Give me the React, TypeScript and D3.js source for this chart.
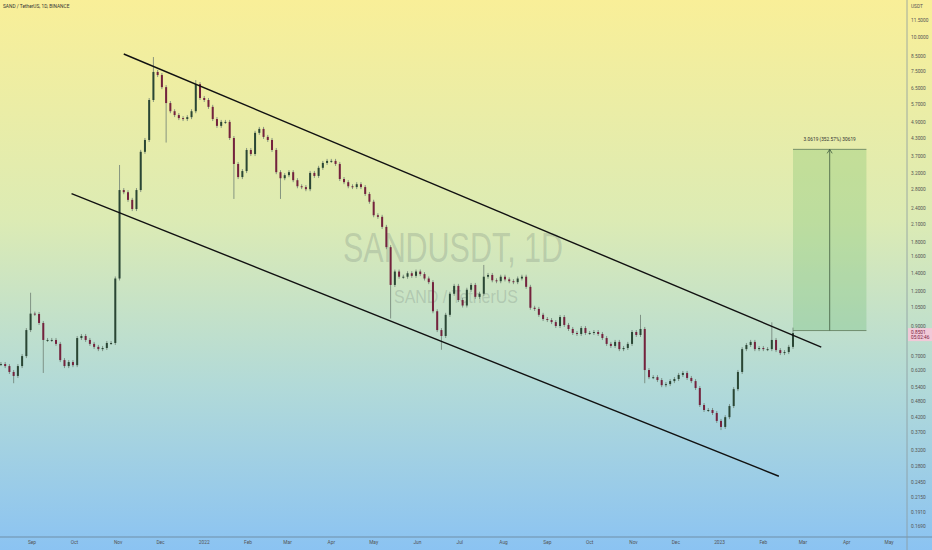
import React, { useEffect } from 'react';
import * as d3 from 'd3';

const W = 932;
const H = 550;
const PLOT_RIGHT = 907;
const PLOT_BOTTOM = 537;

// daily chart resampled to one candle every 3 days, closes
const candleStart = '2021-08-10';
const candleStepDays = 3;
const closes = [
  0.657, 0.646, 0.615, 0.595, 0.646, 0.702, 0.872, 1.0, 0.997, 0.925,
  0.803, 0.803, 0.803, 0.777, 0.679, 0.646, 0.668, 0.651, 0.816, 0.83,
  0.803, 0.777, 0.758, 0.744, 0.751, 0.783, 0.783, 1.34, 2.8, 2.75,
  2.58, 2.39, 2.8, 3.85, 4.25, 5.93, 7.49, 7.3, 6.6, 5.78,
  5.4, 5.23, 5.1, 5.06, 5.14, 5.4, 6.77, 6.03, 5.93, 5.6,
  5.06, 4.78, 4.94, 4.94, 4.32, 3.48, 3.12, 3.28, 3.91, 3.78,
  4.51, 4.66, 4.36, 4.25, 3.91, 3.25, 3.09, 3.17, 3.25, 3.04,
  2.89, 2.87, 2.82, 3.23, 3.15, 3.37, 3.51, 3.57, 3.57, 3.48,
  3.07, 2.99, 2.89, 2.87, 2.94, 2.87, 2.71, 2.54, 2.27, 2.24,
  2.06, 1.74, 1.27, 1.42, 1.36, 1.36, 1.4, 1.37, 1.42, 1.39,
  1.34, 1.3, 1.02, 0.872, 0.83, 0.99, 1.18, 1.26, 1.12, 1.07,
  1.22, 1.27, 1.15, 1.18, 1.36, 1.38, 1.32, 1.31, 1.36, 1.33,
  1.31, 1.3, 1.34, 1.36, 1.25, 1.05, 1.04, 0.99, 0.956, 0.948,
  0.932, 0.902, 0.972, 0.91, 0.88, 0.851, 0.844, 0.887, 0.851, 0.851,
  0.858, 0.844, 0.816, 0.777, 0.764, 0.79, 0.744, 0.751, 0.777, 0.858,
  0.837, 0.88, 0.625, 0.589, 0.589, 0.575, 0.551, 0.556, 0.57, 0.58,
  0.6, 0.61, 0.585, 0.57, 0.538, 0.467, 0.448, 0.448, 0.437, 0.409,
  0.389, 0.422, 0.463, 0.533, 0.615, 0.744, 0.77, 0.79, 0.744, 0.751,
  0.744, 0.744, 0.803, 0.738, 0.72, 0.726, 0.758, 0.8501,
];

// [candle index, high, low] for the long wicks
const wickExtremes: [number, number | null, number | null][] = [
  [3, null, 0.56], [7, 1.19, null], [10, null, 0.61], [28, 3.45, null],
  [36, 8.48, null], [39, null, 4.16], [46, 7.0, null], [55, null, 2.6],
  [66, null, 2.6], [92, null, 0.96], [104, null, 0.74], [114, 1.5, null],
  [151, 0.99, null], [152, null, 0.56], [170, null, 0.379], [182, 0.93, null],
  [187, 0.89, null],
];

const priceTicks = [
  11.5, 10, 8.5, 7.5, 6.5, 5.7, 4.9, 4.3, 3.7, 3.2, 2.8, 2.4, 2.1, 1.8, 1.6,
  1.4, 1.2, 1.05, 0.9, 0.7, 0.62, 0.54, 0.48, 0.42, 0.37, 0.32, 0.28, 0.245,
  0.215, 0.191, 0.169,
];

const upperChannel = [
  { date: '2021-11-05', price: 8.7 },
  { date: '2023-03-14', price: 0.757 },
];
const lowerChannel = [
  { date: '2021-09-29', price: 2.72 },
  { date: '2023-02-12', price: 0.258 },
];
const measure = { from: '2023-02-22', to: '2023-04-15', low: 0.8684, high: 3.9303 };
const measureLabel = '3.0619 (352.57%) 30619';
const lastPrice = 0.8501;
const countdown = '05:02:46';

const parse = d3.timeParse('%Y-%m-%d');

export default function App() {
  useEffect(() => {
    document.body.style.margin = '0';
  }, []);

  const x = d3.scaleTime()
    .domain([new Date(2021, 8, 1), new Date(2023, 4, 1)])
    .range([32, 889]);
  const y = d3.scaleLog().domain([0.169, 11.5]).range([527, 20.5]);

  const start = parse(candleStart)!;
  const highs = new Map(wickExtremes.map(d => [d[0], d]));
  const candles = closes.map((c, i) => {
    const o = i === 0 ? c : closes[i - 1];
    const w = highs.get(i);
    return {
      date: d3.timeDay.offset(start, i * candleStepDays),
      open: o,
      close: c,
      high: w && w[1] != null ? w[1] : Math.max(o, c),
      low: w && w[2] != null ? w[2] : Math.min(o, c),
    };
  });

  const months = d3.timeMonth.range(new Date(2021, 8, 1), new Date(2023, 5, 1));
  const fmtMonth = (d: Date) => (d.getMonth() === 0 ? d3.timeFormat('%Y')(d) : d3.timeFormat('%b')(d));

  const labelFont = 'Roboto, "Noto Sans", sans-serif';
  const lineOf = (pts: { date: string; price: number }[]) =>
    d3.line<{ date: string; price: number }>()
      .x(d => x(parse(d.date)!))
      .y(d => y(d.price))(pts) as string;

  const mx0 = x(parse(measure.from)!);
  const mx1 = x(parse(measure.to)!);
  const my0 = y(measure.high);
  const my1 = y(measure.low);
  const mxc = (mx0 + mx1) / 2;

  return (
    <svg width={W} height={H} style={{ display: 'block' }} fontFamily={labelFont}>
      <defs>
        <linearGradient id="bg" x1="0" y1="0" x2="0" y2="1">
          <stop offset="0%" stopColor="#f9ef98" />
          <stop offset="40%" stopColor="#dcebb4" />
          <stop offset="70%" stopColor="#b2dad8" />
          <stop offset="100%" stopColor="#8bc3f2" />
        </linearGradient>
        <clipPath id="plot">
          <rect x={0} y={0} width={PLOT_RIGHT} height={PLOT_BOTTOM} />
        </clipPath>
      </defs>
      <rect x={0} y={0} width={W} height={H} fill="url(#bg)" />

      {/* watermark */}
      <text x={453} y={262} textAnchor="middle" fontSize={42} fill="#7a8a80" fillOpacity={0.3}
        textLength={220} lengthAdjust="spacingAndGlyphs" fontFamily='"Liberation Sans", Arial, sans-serif'>
        SANDUSDT, 1D
      </text>
      <text x={456} y={303} textAnchor="middle" fontSize={19} fill="#7a8a80" fillOpacity={0.3}
        textLength={124} lengthAdjust="spacingAndGlyphs" fontFamily='"Liberation Sans", Arial, sans-serif'>
        SAND / TetherUS
      </text>

      <g clipPath="url(#plot)">
        {candles.map((d, i) => {
          const cx = x(d.date);
          const up = d.close >= d.open;
          const yTop = y(Math.max(d.open, d.close));
          const yBot = y(Math.min(d.open, d.close));
          return (
            <g key={i}>
              <line x1={cx} x2={cx} y1={Math.min(y(d.high), yTop - 2)} y2={Math.max(y(d.low), yBot + 2)}
                stroke="#6f7f74" strokeWidth={0.8} />
              <rect x={cx - 1} width={2} y={yTop} height={Math.max(1, yBot - yTop)}
                fill={up ? '#2a4634' : '#74223d'} />
            </g>
          );
        })}

        <path d={lineOf(upperChannel)} stroke="#111" strokeWidth={1.4} fill="none" />
        <path d={lineOf(lowerChannel)} stroke="#111" strokeWidth={1.4} fill="none" />

        {/* price range measurement */}
        <rect x={mx0} y={my0} width={mx1 - mx0} height={my1 - my0} fill="#4caf50" fillOpacity={0.22} />
        <line x1={mx0} x2={mx1} y1={my0} y2={my0} stroke="#5f7a5a" strokeWidth={0.8} />
        <line x1={mx0} x2={mx1} y1={my1} y2={my1} stroke="#5f7a5a" strokeWidth={0.8} />
        <line x1={mxc} x2={mxc} y1={my1} y2={my0} stroke="#3f5a3f" strokeWidth={0.8} />
        <path d={`M${mxc - 2.5},${my0 + 4} L${mxc},${my0} L${mxc + 2.5},${my0 + 4}`} stroke="#3f5a3f" strokeWidth={0.8} fill="none" />
        <text x={mxc} y={my0 - 10} textAnchor="middle" fontSize={4.8} fill="#333" dominantBaseline="middle">
          {measureLabel}
        </text>
      </g>

      <text x={3} y={7} fontSize={4.8} fill="#333" dominantBaseline="middle">SAND / TetherUS, 1D, BINANCE</text>

      {/* axes */}
      <line x1={0} x2={W} y1={PLOT_BOTTOM} y2={PLOT_BOTTOM} stroke="#6f8fa8" strokeWidth={1} />
      <line x1={PLOT_RIGHT} x2={PLOT_RIGHT} y1={0} y2={H} stroke="#8a9aa0" strokeWidth={0.8} />

      <text x={911} y={6.5} fontSize={4.8} fill="#555" dominantBaseline="middle">USDT</text>
      {priceTicks.map(p => (
        <text key={p} x={911} y={y(p)} fontSize={4.8} fill="#555" dominantBaseline="middle">
          {p.toFixed(4)}
        </text>
      ))}

      <rect x={908} y={y(lastPrice) - 5} width={24} height={13} fill="#f1c9d8" />
      <text x={911} y={y(lastPrice)} fontSize={4.8} fill="#7d2340" dominantBaseline="middle">
        {lastPrice.toFixed(4)}
      </text>
      <text x={911} y={y(lastPrice) + 5} fontSize={4.8} fill="#7d2340" dominantBaseline="middle">
        {countdown}
      </text>

      {months.map(m => (
        <text key={m.toISOString()} x={x(m)} y={543} fontSize={4.8} fill="#555" textAnchor="middle"
          dominantBaseline="middle">
          {fmtMonth(m)}
        </text>
      ))}
    </svg>
  );
}
